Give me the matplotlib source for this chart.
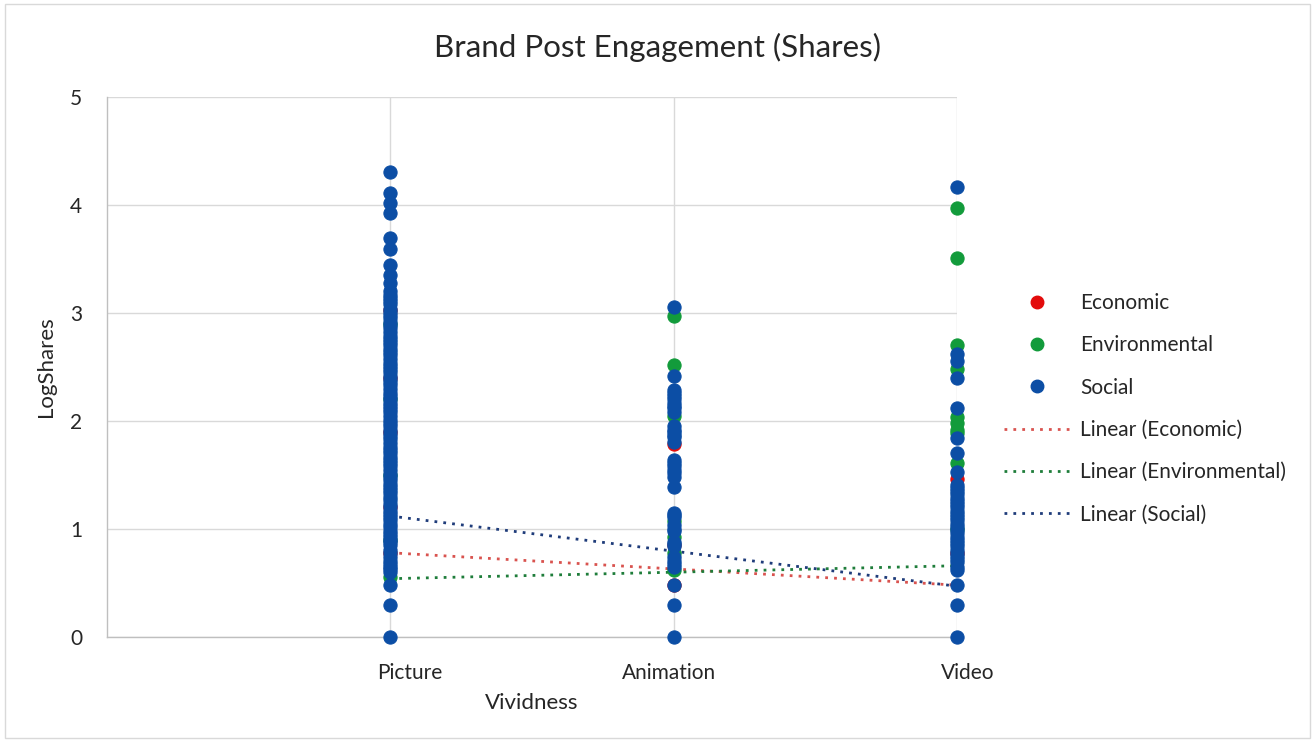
import matplotlib

matplotlib.use("Agg")
import matplotlib.pyplot as plt
import matplotlib.transforms as mtransforms
from matplotlib.lines import Line2D
from matplotlib.patches import Rectangle

plt.rcParams["font.family"] = ["Lato", "DejaVu Sans"]

# vividness categories (x positions 1..3 on a 0..3 axis)
categories = ["Picture", "Animation", "Video"]

# log10(shares) per post, by category and CSR topic
picture_economic = [3.03, 2.40, 1.90, 1.20, 0.78]
picture_environmental = [2.90, 2.20, 1.50, 0.90, 0.56]
picture_social = [4.31, 4.11, 4.02, 3.93, 3.69, 3.59, 3.44, 3.35, 3.28, 3.20,
                  3.17, 3.14, 3.11, 3.08, 3.04, 3.01, 2.98, 2.95, 2.92, 2.89,
                  2.86, 2.82, 2.79, 2.76, 2.73, 2.70, 2.67, 2.64, 2.61, 2.57,
                  2.54, 2.51, 2.48, 2.45, 2.42, 2.39, 2.36, 2.33, 2.30, 2.26,
                  2.23, 2.20, 2.17, 2.14, 2.11, 2.08, 2.05, 2.01, 1.98, 1.95,
                  1.92, 1.89, 1.86, 1.83, 1.80, 1.76, 1.73, 1.70, 1.67, 1.64,
                  1.61, 1.58, 1.55, 1.51, 1.48, 1.45, 1.42, 1.39, 1.36, 1.33,
                  1.30, 1.27, 1.23, 1.20, 1.17, 1.14, 1.11, 1.08, 1.05, 1.02,
                  0.98, 0.95, 0.93, 0.90, 0.88, 0.85, 0.81, 0.78, 0.74, 0.70,
                  0.68, 0.65, 0.63, 0.60, 0.48, 0.30, 0.00]

animation_economic = [1.79, 0.85, 0.48]
animation_environmental = [2.97, 2.52, 2.05, 1.07, 0.93, 0.78, 0.62]
animation_social = [3.06, 2.42, 2.29, 2.26, 2.23, 2.20, 2.17, 2.14, 2.12, 2.08,
                    1.95, 1.92, 1.90, 1.87, 1.85, 1.81, 1.64, 1.61, 1.58, 1.55,
                    1.52, 1.48, 1.39, 1.15, 1.13, 1.11, 1.04, 1.00, 0.98, 0.88,
                    0.86, 0.84, 0.74, 0.70, 0.68, 0.65, 0.48, 0.30, 0.00]

video_economic = [1.46, 0.78]
video_environmental = [3.97, 3.51, 2.70, 2.48, 2.04, 1.98, 1.92, 1.89, 1.61, 1.00]
video_social = [4.17, 2.62, 2.56, 2.40, 2.12, 1.84, 1.70, 1.53, 1.41, 1.38,
                1.35, 1.32, 1.29, 1.26, 1.23, 1.20, 1.17, 1.14, 1.11, 1.08,
                1.05, 1.02, 0.99, 0.96, 0.93, 0.90, 0.87, 0.84, 0.81, 0.78,
                0.75, 0.72, 0.69, 0.65, 0.62, 0.48, 0.30, 0.00]

# linear trendline values at Picture (x=1) and Video (x=3)
trend_x = [1, 3]
trend_economic = [0.78, 0.48]
trend_environmental = [0.54, 0.66]
trend_social = [1.12, 0.47]

RED, GREEN, BLUE = "#e30b0b", "#129b3b", "#0c4ea5"
TEXT = "#262626"
GRID = "#d9d9d9"

series = [
    ("Economic", RED, [picture_economic, animation_economic, video_economic], trend_economic, "#d9534f"),
    ("Environmental", GREEN, [picture_environmental, animation_environmental, video_environmental],
     trend_environmental, "#1e7d3a"),
    ("Social", BLUE, [picture_social, animation_social, video_social], trend_social, "#1f3c7a"),
]

fig = plt.figure(figsize=(13.15, 7.42), dpi=100)
ax = fig.add_axes([0.0814, 0.1415, 0.6464, 0.7278])

for name, color, groups, trend, tcolor in series:
    ax.plot(trend_x, trend, linestyle=(0, (1, 2.2)), color=tcolor, linewidth=2.0, zorder=2)

for name, color, groups, trend, tcolor in series:
    for i, vals in enumerate(groups):
        ax.scatter([i + 1] * len(vals), vals, s=90, color=color, edgecolors=color,
                   linewidths=0.8, zorder=3, clip_on=False)

ax.set_xlim(0, 3)
ax.set_ylim(0, 5)
ax.set_xticks([1, 2, 3])
ax.set_xticklabels(categories)
ax.set_yticks(range(6))
ax.tick_params(length=0, labelsize=15, labelcolor=TEXT)
ax.tick_params(axis="x", pad=19)
ax.tick_params(axis="y", pad=18)
for label, dx in zip(ax.get_xticklabels(), [19, -5, 11]):
    label.set_transform(label.get_transform() + mtransforms.ScaledTranslation(dx / 100, 0, fig.dpi_scale_trans))

ax.grid(True, color=GRID, linewidth=1.0, zorder=0)
ax.set_axisbelow(True)
for side in ["top", "right"]:
    ax.spines[side].set_visible(False)
for side in ["left", "bottom"]:
    ax.spines[side].set_color("#bfbfbf")
    ax.spines[side].set_linewidth(1.0)

ax.set_xlabel("Vividness", fontsize=16, color=TEXT, labelpad=7)
ax.set_ylabel("LogShares", fontsize=16, color=TEXT, labelpad=10)
fig.text(0.5, 0.936, "Brand Post Engagement (Shares)", fontsize=22.5, color=TEXT, ha="center", va="center")

handles = [Line2D([], [], linestyle="none", marker="o", markersize=9, color=c) for c in (RED, GREEN, BLUE)]
handles += [Line2D([], [], linestyle=(0, (1, 2.2)), linewidth=2.0, color=c) for c in ("#d9534f", "#1e7d3a", "#1f3c7a")]
labels = ["Economic", "Environmental", "Social",
          "Linear (Economic)", "Linear (Environmental)", "Linear (Social)"]
ax.legend(handles, labels, loc="center left", bbox_to_anchor=(0.757, 0.449), bbox_transform=fig.transFigure,
          frameon=False, fontsize=15, labelspacing=1.07, handlelength=3.2, handletextpad=0.45,
          labelcolor=TEXT, borderaxespad=0)

fig.patches.append(Rectangle((0.004, 0.006), 0.992, 0.988, transform=fig.transFigure,
                             fill=False, edgecolor=GRID, linewidth=1.0))

fig.savefig("out.png", dpi=100)
